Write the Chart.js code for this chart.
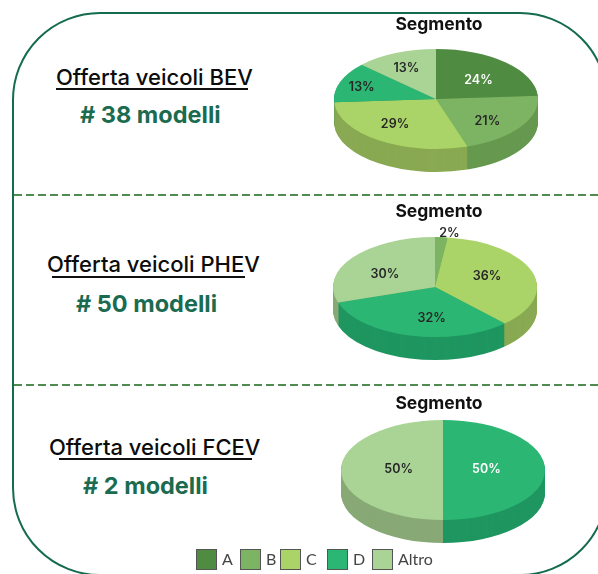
<!DOCTYPE html>
<html>
<head>
<meta charset="utf-8">
<title>Offerta veicoli</title>
<script src="https://cdn.jsdelivr.net/npm/chart.js@4"></script>
<style>
    html, body { margin: 0; padding: 0; background: #fff; }
    #page { position: relative; width: 598px; height: 574px; overflow: hidden; font-family: Inter, sans-serif; }
    #frame { position: absolute; left: 12px; top: 12px; width: 596px; height: 564px; border: 2px solid #146b4f; border-radius: 88px; box-sizing: border-box; }
    .dash { position: absolute; left: 14px; right: 0; height: 2px; background: repeating-linear-gradient(90deg, #4f8c4f 0 8px, transparent 8px 12px); }
    .head { position: absolute; font-size: 22px; font-weight: 500; color: #0c0c0c; white-space: nowrap; line-height: 24px; }
    .rule { position: absolute; height: 2px; background: #111; }
    .count { position: absolute; font-size: 23.5px; font-weight: 700; color: #1a6b50; white-space: nowrap; line-height: 28px; }
    canvas { position: absolute; left: 319px; }
    .swatch { position: absolute; top: 549px; width: 19px; height: 19px; border: 1.5px solid #555; }
    .name { position: absolute; top: 549px; font-family: Lato, sans-serif; font-size: 16px; color: #444; line-height: 20px; }
</style>
</head>
<body>
<div id="page">
    <div id="frame"></div>
    <div class="dash" style="top:194px"></div>
    <div class="dash" style="top:384px"></div>

    <div class="head" style="left:56px;top:65px">Offerta veicoli BEV</div>
    <div class="rule" style="left:56px;top:88px;width:192px"></div>
    <div class="count" style="left:80px;top:101px"># 38 modelli</div>

    <div class="head" style="left:47px;top:252px">Offerta veicoli PHEV</div>
    <div class="rule" style="left:52px;top:276px;width:193px"></div>
    <div class="count" style="left:76px;top:290px"># 50 modelli</div>

    <div class="head" style="left:49px;top:435px">Offerta veicoli FCEV</div>
    <div class="rule" style="left:59px;top:458px;width:193px"></div>
    <div class="count" style="left:83px;top:472px"># 2 modelli</div>

    <canvas id="bev" width="240" height="180" style="top:14px"></canvas>
    <canvas id="phev" width="240" height="180" style="top:201px"></canvas>
    <canvas id="fcev" width="240" height="180" style="top:393px"></canvas>
    <div id="legend"></div>
</div>

<script>
const segments = ['A', 'B', 'C', 'D', 'Altro'];
const bevValues = [24, 21, 29, 13, 13];
const phevValues = [0, 2, 36, 32, 30];
const fcevValues = [0, 0, 0, 50, 50];

const topColors = ['#4f8c41', '#7db463', '#abd468', '#2cb673', '#a9d495'];
const sideColors = ['#437836', '#66994f', '#89a952', '#1f9660', '#88a976'];
const legendX = [196, 240, 280, 327, 372];

// label nudges in px, away from the default spot on each slice
const bevNudge = [[-5, 6], [-6, 3], [-2, -3], [-9, 0], [-2, 0]];
const phevNudge = [[0, 0], [10, -20], [-14, 0], [14, -2], [6, 7]];
const fcevNudge = [[0, 0], [0, 0], [0, 0], [-26, -1], [25, -1]];

const radiusX = 102;
const radiusY = 50;
const depth = 23;

const pie3d = {
    id: 'pie3d',
    beforeDatasetsDraw(chart, args, opts) {
        const ctx = chart.ctx;
        const arcs = chart.getDatasetMeta(0).data;
        const x = arcs[0].x;
        const y = arcs[0].y;
        const k = radiusY / radiusX;

        // side wall: the same arcs stacked downwards in the darker colours
        for (let d = depth; d >= 1; d--) {
            ctx.save();
            ctx.translate(x + opts.shiftX, opts.centerY + d);
            ctx.scale(1, k);
            ctx.translate(-x, -y);
            arcs.forEach((arc, i) => {
                const saved = arc.options;
                arc.options = {
                    backgroundColor: sideColors[i], borderColor: sideColors[i], borderWidth: 0,
                    spacing: 0, offset: 0, borderRadius: 0, circular: true, borderJoinStyle: 'round'
                };
                arc.draw(ctx);
                arc.options = saved;
            });
            ctx.restore();
        }

        ctx.save();
        ctx.translate(x + opts.shiftX, opts.centerY);
        ctx.scale(1, k);
        ctx.translate(-x, -y);
    },
    afterDatasetsDraw(chart, args, opts) {
        const ctx = chart.ctx;
        ctx.restore();

        const meta = chart.getDatasetMeta(0);
        const values = chart.data.datasets[0].data;
        ctx.save();
        ctx.font = '600 12.5px Inter, sans-serif';
        ctx.textAlign = 'center';
        ctx.textBaseline = 'middle';
        meta.data.forEach((arc, i) => {
            if (!values[i]) return;
            const mid = (arc.startAngle + arc.endAngle) / 2;
            const px = arc.x + opts.shiftX + Math.cos(mid) * radiusX * 0.68 + opts.nudge[i][0];
            const py = opts.centerY + Math.sin(mid) * radiusY * 0.68 + opts.nudge[i][1];
            ctx.fillStyle = opts.white.includes(i) ? '#ffffff' : '#262626';
            ctx.fillText(values[i] + '%', px, py);
        });
        ctx.restore();
    }
};

function makePie(id, values, shiftX, centerY, nudge, white) {
    return new Chart(document.getElementById(id), {
        type: 'pie',
        data: {
            labels: segments,
            datasets: [{
                data: values,
                backgroundColor: topColors,
                borderWidth: 0,
                radius: radiusX
            }]
        },
        options: {
            responsive: false,
            animation: false,
            layout: { padding: 0 },
            plugins: {
                legend: { display: false },
                tooltip: { enabled: false },
                title: {
                    display: true,
                    text: 'Segmento',
                    color: '#111',
                    padding: 0,
                    font: { family: 'Inter, sans-serif', size: 17.5, weight: 'bold' }
                },
                pie3d: { shiftX: shiftX, centerY: centerY, nudge: nudge, white: white }
            }
        },
        plugins: [pie3d]
    });
}

makePie('bev', bevValues, -3, 85, bevNudge, [0]);
makePie('phev', phevValues, -4, 86, phevNudge, []);
makePie('fcev', fcevValues, 4, 77, fcevNudge, [3]);

const legend = document.getElementById('legend');
segments.forEach((name, i) => {
    legend.innerHTML += `<div class="swatch" style="left:${legendX[i]}px;background:${topColors[i]}"></div>`
        + `<div class="name" style="left:${legendX[i] + 26}px">${name}</div>`;
});
</script>
</body>
</html>
